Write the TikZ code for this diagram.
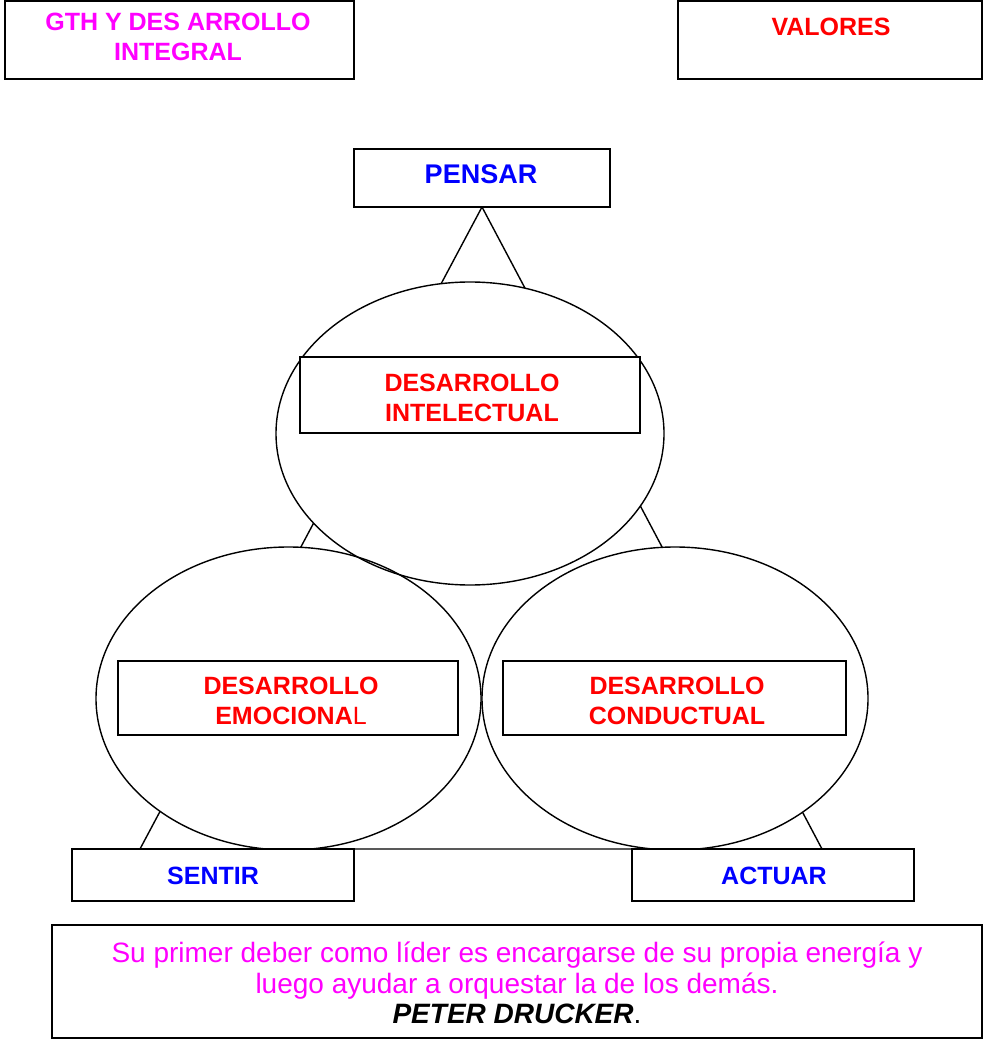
\documentclass[tikz,border=0pt]{standalone}
\usepackage{fontspec}
\setmainfont{Liberation Sans}
\definecolor{mag}{RGB}{255,0,255}
\definecolor{rojo}{RGB}{255,0,0}
\definecolor{azul}{RGB}{0,0,255}
\begin{document}
\begin{tikzpicture}[x=1pt,y=-1pt,
  box/.style={draw=black,line width=1.4pt,fill=white,rectangle,inner sep=0pt,align=center},
  lbl/.style={font=\fontsize{25}{30}\selectfont\bfseries,align=center,inner sep=0pt},
  edge/.style={draw=black,line width=1.4pt}]
\useasboundingbox (0,0) rectangle (984,1040);

% corner boxes
\node[box,minimum width=349pt,minimum height=78pt] (gth) at (179.5,40) {};
\node[lbl,text=mag] (gtht) at (178,37) {GTH Y DES ARROLLO\\INTEGRAL};
\node[box,minimum width=304pt,minimum height=78pt] (valores) at (830,40) {};
\node[lbl,text=rojo] (valorest) at (831,27) {VALORES};

% triangle behind the three circles
\coordinate (apex) at (482,207);
\coordinate (bl) at (140,849);
\coordinate (br) at (822,849);
\draw[edge] (apex) -- (bl) -- (br) -- cycle;

% the three circles: fill first, then outlines
\path[fill=white] (470,433.5) ellipse [x radius=194, y radius=151.5];
\path[fill=white] (288.5,698.5) ellipse [x radius=192.5, y radius=151.5];
\path[fill=white] (675,698.5) ellipse [x radius=193, y radius=151.5];
\draw[edge] (470,433.5) ellipse [x radius=194, y radius=151.5];
\draw[edge] (288.5,698.5) ellipse [x radius=192.5, y radius=151.5];
\draw[edge] (675,698.5) ellipse [x radius=193, y radius=151.5];

% vertex boxes
\node[box,minimum width=256pt,minimum height=58pt] (pensar) at (482,178) {};
\node[lbl,text=azul,font=\fontsize{27}{32}\selectfont\bfseries] (pensart) at (481,174) {PENSAR};
\node[box,minimum width=282pt,minimum height=52pt] (sentir) at (213,875) {};
\node[lbl,text=azul] (sentirt) at (213,876) {SENTIR};
\node[box,minimum width=282pt,minimum height=52pt] (actuar) at (773,875) {};
\node[lbl,text=azul] (actuart) at (774,876) {ACTUAR};

% labels inside the circles
\node[box,minimum width=340pt,minimum height=76pt] (intel) at (470,395) {};
\node[lbl,text=rojo] (intelt) at (472,398) {DESARROLLO\\INTELECTUAL};
\node[box,minimum width=340pt,minimum height=74pt] (emoc) at (288,698) {};
\node[lbl,text=rojo] (emoct) at (291,701) {DESARROLLO\\EMOCIONA{\mdseries L}};
\node[box,minimum width=343pt,minimum height=74pt] (cond) at (674.5,698) {};
\node[lbl,text=rojo] (condt) at (677,701) {DESARROLLO\\CONDUCTUAL};

% quotation
\node[box,minimum width=930pt,minimum height=113pt] (quote) at (517,981.5) {};
\node[align=center,inner sep=0pt,font=\fontsize{28}{30.5}\selectfont,text=mag] (quotet) at (517,983)
  {Su primer deber como líder es encargarse de su propia energía y\\
   luego ayudar a orquestar la de los demás.\\
   {\color{black}\bfseries\itshape PETER DRUCKER}{\color{black}.}};
\end{tikzpicture}
\end{document}
